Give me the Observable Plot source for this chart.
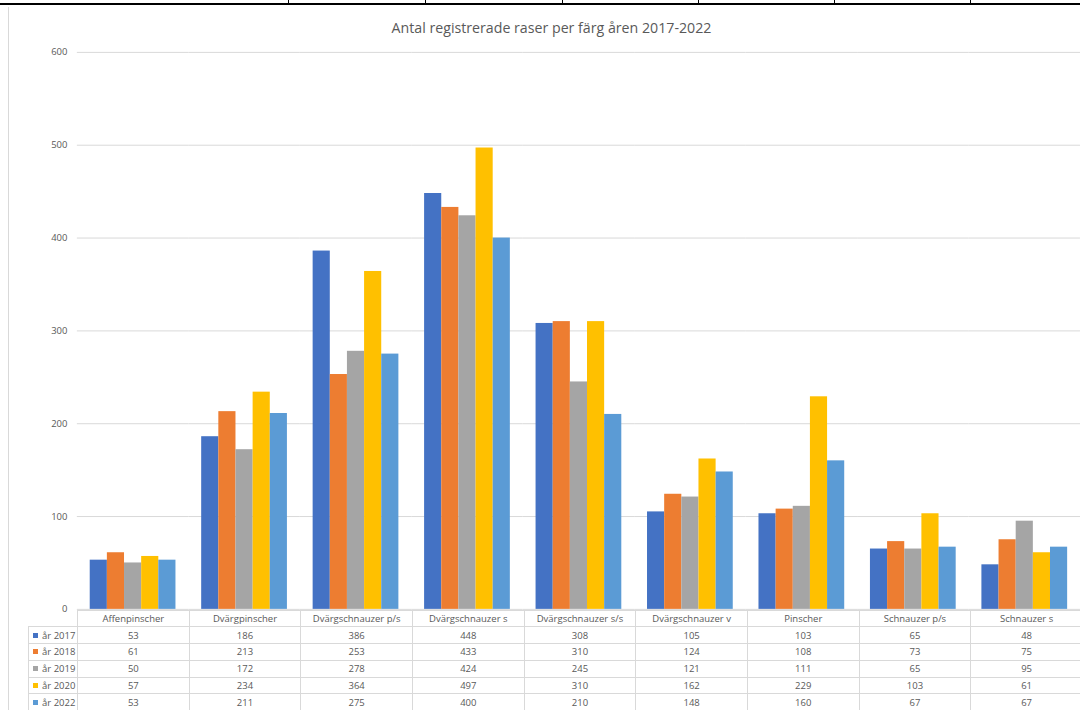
<!DOCTYPE html>
<html>
<head>
<meta charset="utf-8">
<script src="https://cdn.jsdelivr.net/npm/d3@7"></script>
<script src="https://cdn.jsdelivr.net/npm/@observablehq/plot@0.6"></script>
<style>
  html, body { margin: 0; padding: 0; background: #fff; overflow: hidden; }
  #wrap { position: relative; width: 1080px; height: 710px; overflow: hidden; font-family: "Open Sans", sans-serif; }
  #topline { position: absolute; left: 0; top: 3px; width: 1080px; height: 2px; background: #000; }
  .ptick { position: absolute; top: 0; width: 1px; height: 4px; background: #000; }
  #leftborder { position: absolute; left: 8px; top: 7px; width: 1px; height: 710px; background: #d9d9d9; }
  #title { position: absolute; left: 0; top: 18px; width: 1103px; text-align: center; font-size: 14.2px; color: #595959; white-space: nowrap; }
  #chart { position: absolute; left: 0; top: 0; }
  #tbl { position: absolute; border-collapse: collapse; table-layout: fixed; }
  #tbl td { border: 1px solid #d9d9d9; padding: 0; height: 15.8px; text-align: center; font-size: 9.5px; color: #595959; white-space: nowrap; overflow: hidden; line-height: 15px; }
  #tbl td.leg { text-align: left; padding-left: 4px; }
  #tbl td.blank { border-top: none; border-left: none; }
  .key { display: inline-block; width: 5px; height: 5px; margin-right: 4px; vertical-align: 1px; }
</style>
</head>
<body>
<div id="wrap">
  <div id="topline"></div>
  <div id="leftborder"></div>
  <div id="title">Antal registrerade raser per färg åren 2017-2022</div>
  <div id="chart"></div>
</div>
<script>
const breeds = ["Affenpinscher", "Dvärgpinscher", "Dvärgschnauzer p/s", "Dvärgschnauzer s", "Dvärgschnauzer s/s", "Dvärgschnauzer v", "Pinscher", "Schnauzer p/s", "Schnauzer s"];
const years = ["år 2017", "år 2018", "år 2019", "år 2020", "år 2022"];
const v2017 = [53, 186, 386, 448, 308, 105, 103, 65, 48];
const v2018 = [61, 213, 253, 433, 310, 124, 108, 73, 75];
const v2019 = [50, 172, 278, 424, 245, 121, 111, 65, 95];
const v2020 = [57, 234, 364, 497, 310, 162, 229, 103, 61];
const v2022 = [53, 211, 275, 400, 210, 148, 160, 67, 67];
const colors = ["#4472C4", "#ED7D31", "#A5A5A5", "#FFC000", "#5B9BD5"];
const yTicks = [0, 100, 200, 300, 400, 500, 600];
const pageTicks = [288, 425, 562, 698, 834, 970];

const series = [v2017, v2018, v2019, v2020, v2022];
const data = [];
years.forEach((y, i) => breeds.forEach((b, j) => data.push({breed: b, year: y, value: series[i][j]})));

// page edge ticks (decoration)
const wrap = document.getElementById("wrap");
pageTicks.forEach(x => {
  const t = document.createElement("div");
  t.className = "ptick"; t.style.left = x + "px";
  wrap.appendChild(t);
});

const plot = Plot.plot({
  width: 1082,
  height: 710,
  marginTop: 52,
  marginBottom: 100,
  marginLeft: 77,
  marginRight: 0,
  style: {fontFamily: "Open Sans, sans-serif", fontSize: "9.5px", color: "#595959", background: "transparent"},
  fx: {domain: breeds, paddingInner: 0, paddingOuter: 0, round: false, axis: null, label: null},
  x: {domain: years, paddingInner: 0, paddingOuter: 0.75, round: false, axis: null, label: null},
  y: {domain: [0, 600], ticks: yTicks, tickSize: 0, tickPadding: 10, label: null, tickFormat: d => String(d)},
  color: {domain: years, range: colors},
  marks: [
    Plot.ruleY(yTicks, {stroke: "#d9d9d9", strokeWidth: 1}),
    Plot.barY(data, {fx: "breed", x: "year", y: "value", fill: "year"})
  ]
});
document.getElementById("chart").appendChild(plot);

// data table aligned to the plot's facet scale
const fx = plot.scale("fx");
const bw = fx.bandwidth;
const left0 = fx.apply(breeds[0]);
const legW = 49;
const tbl = document.createElement("table");
tbl.id = "tbl";
tbl.style.left = (left0 - legW) + "px";
tbl.style.top = "609.5px";
tbl.style.width = (legW + bw * breeds.length) + "px";
const cg = document.createElement("colgroup");
const c0 = document.createElement("col"); c0.style.width = legW + "px"; cg.appendChild(c0);
breeds.forEach(() => { const c = document.createElement("col"); c.style.width = bw + "px"; cg.appendChild(c); });
tbl.appendChild(cg);
const hr = document.createElement("tr");
const hb = document.createElement("td"); hb.className = "blank"; hr.appendChild(hb);
breeds.forEach(b => { const td = document.createElement("td"); td.textContent = b; hr.appendChild(td); });
tbl.appendChild(hr);
years.forEach((y, i) => {
  const tr = document.createElement("tr");
  const lg = document.createElement("td"); lg.className = "leg";
  const k = document.createElement("span"); k.className = "key"; k.style.background = colors[i];
  lg.appendChild(k); lg.appendChild(document.createTextNode(y));
  tr.appendChild(lg);
  series[i].forEach(v => { const td = document.createElement("td"); td.textContent = v; tr.appendChild(td); });
  tbl.appendChild(tr);
});
wrap.appendChild(tbl);
</script>
</body>
</html>
